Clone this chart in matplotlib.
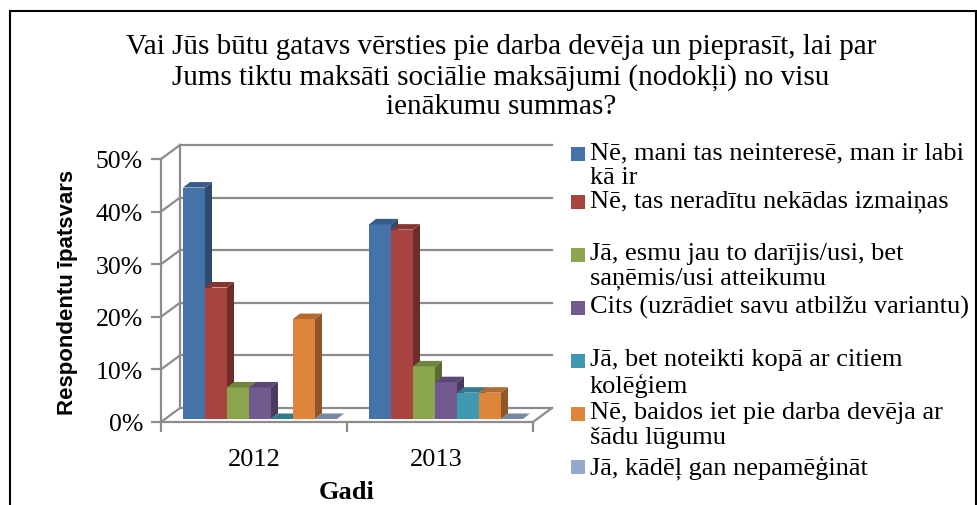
import numpy as np
import matplotlib.pyplot as plt
from matplotlib.patches import Polygon, Rectangle

# data
years = ['2012', '2013']
labels = ['Nē, mani tas neinteresē, man ir labi\nkā ir',
          'Nē, tas neradītu nekādas izmaiņas',
          'Jā, esmu jau to darījis/usi, bet\nsaņēmis/usi atteikumu',
          'Cits (uzrādiet savu atbilžu variantu)',
          'Jā, bet noteikti kopā ar citiem\nkolēģiem',
          'Nē, baidos iet pie darba devēja ar\nšādu lūgumu',
          'Jā, kādēļ gan nepamēģināt']
values_2012 = [44, 25, 6, 6, 0, 19, 0]
values_2013 = [37, 36, 10, 7, 5, 5, 0]
colors = ['#4672AA', '#A84440', '#8BA64D', '#725A91', '#3F99B0', '#DE853C', '#94AACC']
yticks = [0, 10, 20, 30, 40, 50]
title = ('Vai Jūs būtu gatavs vērsties pie darba devēja un pieprasīt, lai par\n'
         'Jums tiktu maksāti sociālie maksājumi (nodokļi) no visu\n'
         'ienākumu summas?')

serif = 'Liberation Serif'
grid_c = '#8C8C8C'

W, H = 977, 506
fig = plt.figure(figsize=(W/100, H/100), dpi=100)

# pixel geometry of the plot (front origin, scales)
x0, y0 = 161, 423
sx, sy = 186.0, 5.26
xmax, ymax = 2.2, 55
ax = fig.add_axes([x0/W, (H-y0)/H, xmax*sx/W, ymax*sy/H])
ax.set_xlim(0, xmax)
ax.set_ylim(0, ymax)
ax.patch.set_alpha(0)

# depth offsets in data units
dxw, dyw = 19/sx, 14/sy      # wall depth
dxb, dyb = 6/sx, 3/sy        # bar front offset
ddx, ddy = 7/sx, 5.5/sy      # bar depth
bw = 22/sx
gap = 16/sx

# walls: back gridlines, left wall slants, floor
for t in yticks:
    ax.plot([dxw, 2+dxw], [t+dyw, t+dyw], color=grid_c, lw=1.6, clip_on=False, zorder=1)
    ax.plot([0, dxw], [t, t+dyw], color=grid_c, lw=1.6, clip_on=False, zorder=1)
ax.plot([dxw, dxw], [dyw, 50+dyw], color=grid_c, lw=1.6, clip_on=False, zorder=1)
ax.plot([2, 2+dxw], [0, dyw], color=grid_c, lw=1.6, clip_on=False, zorder=1)

for sp in ['top', 'right']:
    ax.spines[sp].set_visible(False)
ax.spines['left'].set_bounds(0, 50)
ax.spines['bottom'].set_bounds(0, 2)
for sp in ['left', 'bottom']:
    ax.spines[sp].set_color(grid_c)
    ax.spines[sp].set_linewidth(1.6)

ax.set_yticks(yticks)
ax.set_yticklabels(['%d%%' % t for t in yticks], fontsize=18.5, family=serif)
ax.set_xticks([0, 1, 2])
ax.set_xticklabels([])
ax.set_xticks([0.5, 1.48], minor=True)
ax.set_xticklabels(years, minor=True, fontsize=19, family=serif)
ax.tick_params(axis='both', which='major', length=7, width=1.6, color=grid_c, pad=6)
ax.tick_params(axis='x', which='minor', length=0, pad=19)


def shade(c, f):
    r, g, b = [int(c[i:i+2], 16) for i in (1, 3, 5)]
    return (r*f/255, g*f/255, b*f/255)


for j, vals in enumerate([values_2012, values_2013]):
    for i, v in enumerate(vals):
        left = j + gap + dxb + i*bw
        b = dyb
        z = 10 + i
        ax.bar(left, v, width=bw, bottom=b, align='edge', color=colors[i], zorder=z, clip_on=False)
        top = b + v
        side = [(left+bw, b), (left+bw+ddx, b+ddy), (left+bw+ddx, top+ddy), (left+bw, top)]
        lid = [(left, top), (left+ddx, top+ddy), (left+bw+ddx, top+ddy), (left+bw, top)]
        if v > 0:
            ax.add_patch(Polygon(side, closed=True, fc=shade(colors[i], 0.65), ec='none', zorder=z, clip_on=False))
        ax.add_patch(Polygon(lid, closed=True, fc=shade(colors[i], 0.8), ec='none', zorder=z, clip_on=False))

ax.set_ylabel('Respondentu īpatsvars', fontsize=16, fontweight='bold', family='Liberation Sans')
ax.yaxis.set_label_coords(-(x0-78)/(xmax*sx), (423-292)/(ymax*sy))
ax.set_xlabel('Gadi', fontsize=19, fontweight='bold', family=serif)
ax.xaxis.set_label_coords((347-x0)/(xmax*sx), -(481-423)/(ymax*sy))

# title
fig.text(501/W, 1-77/H, title, ha='center', va='center', fontsize=21, family=serif,
         linespacing=1.15)

# legend
for i, lab in enumerate(labels):
    yc = 155 if i == 0 else 150 + i*53
    fig.patches.append(Rectangle((571/W, 1-(yc+7)/H), 14/W, 14/H, fc=colors[i], ec='none',
                                 transform=fig.transFigure, figure=fig))
    fig.text(590/W, 1-(yc-13)/H, lab, ha='left', va='top', fontsize=19, family=serif,
             linespacing=1.15)

# outer frame
fig.patches.append(Rectangle((10/W, -0.05), 966/W, 1.05-12/H, fill=False, ec='black', lw=1.5,
                             transform=fig.transFigure, figure=fig))

fig.savefig('out.png', dpi=100)
